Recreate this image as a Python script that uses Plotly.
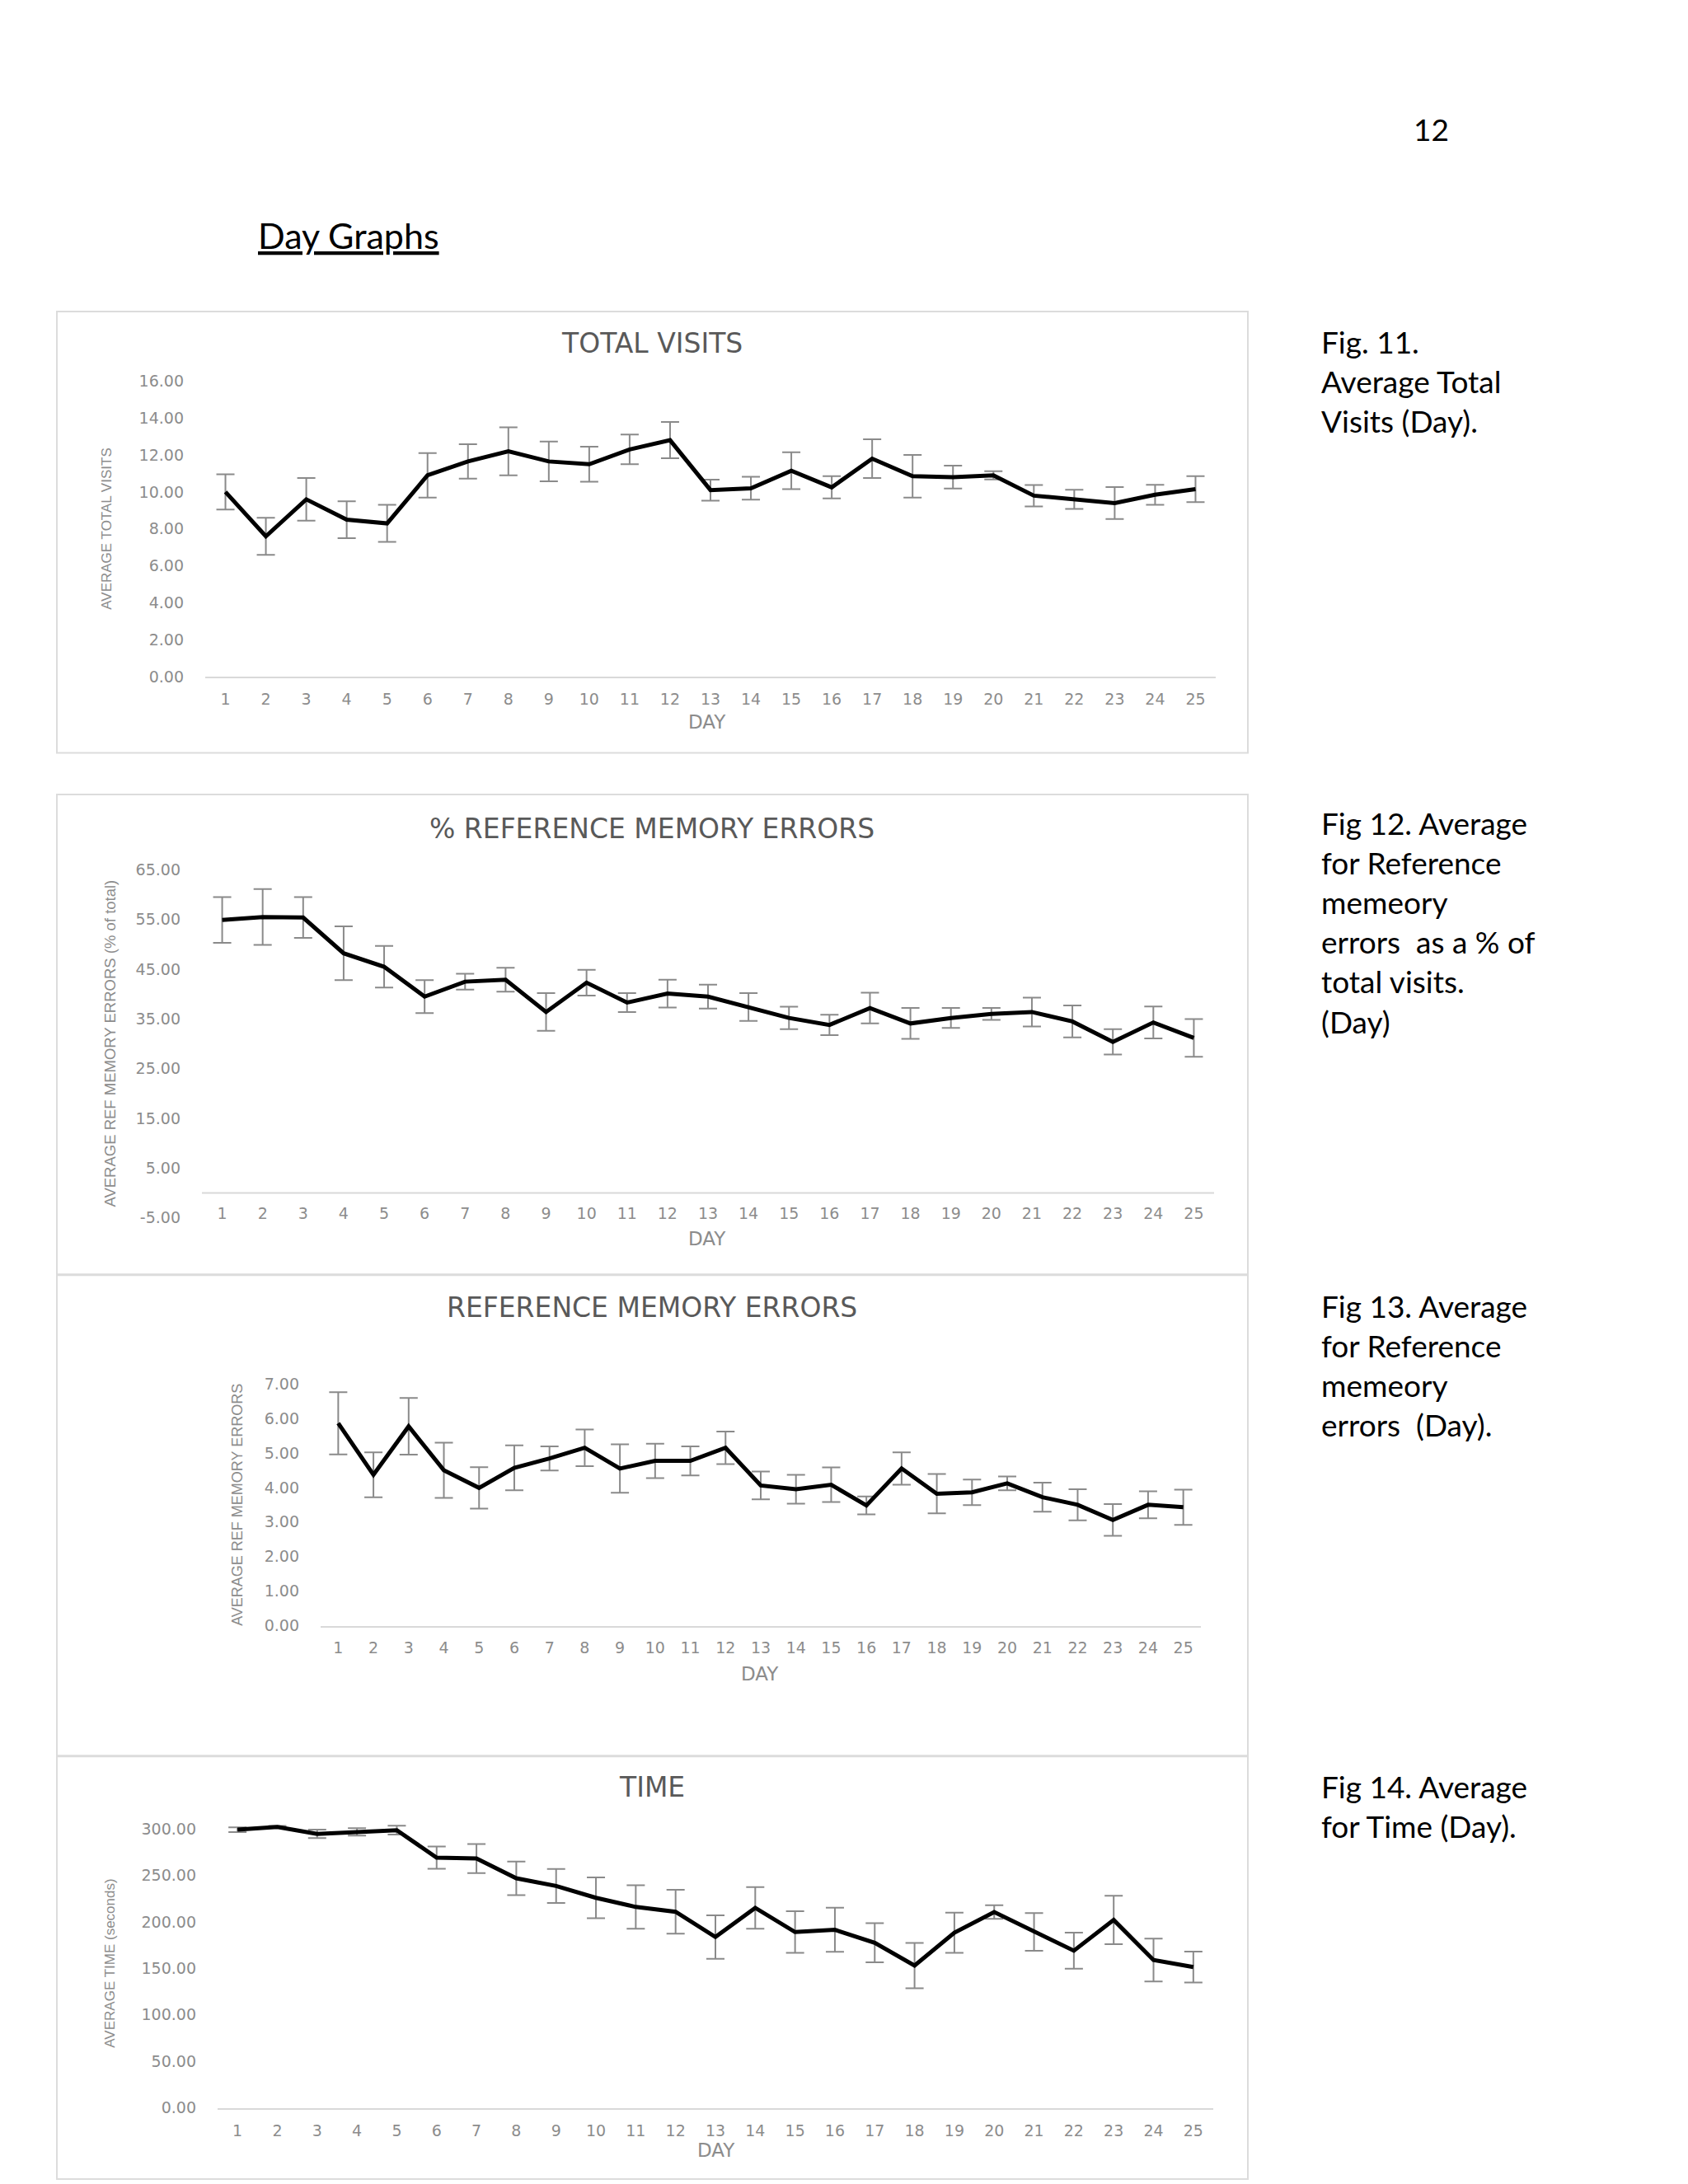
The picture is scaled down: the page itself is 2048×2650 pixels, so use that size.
import plotly.graph_objs as go

W = 2048
H = 2650

days = list(range(1, 26))

# fig 11 - total visits
visits = [10.0, 7.6, 9.6, 8.5, 8.3, 10.9, 11.65, 12.2, 11.65, 11.5, 12.3, 12.8, 10.1,
          10.2, 11.15, 10.25, 11.8, 10.85, 10.8, 10.9, 9.8, 9.6, 9.4, 9.85, 10.15]
visits_err = [0.95, 1.0, 1.15, 1.0, 1.0, 1.2, 0.93, 1.3, 1.08, 0.95, 0.8, 0.98, 0.57,
              0.62, 1.0, 0.6, 1.05, 1.15, 0.62, 0.22, 0.58, 0.52, 0.86, 0.54, 0.7]

# fig 12 - % reference memory errors
pct_errors = [54.9, 55.5, 55.4, 48.2, 45.5, 39.5, 42.5, 42.9, 36.4, 42.3, 38.3, 40.1, 39.5,
              37.4, 35.2, 33.8, 37.2, 34.1, 35.2, 36.0, 36.4, 34.5, 30.4, 34.3, 31.2]
pct_errors_err = [4.6, 5.6, 4.1, 5.4, 4.2, 3.3, 1.6, 2.4, 3.8, 2.6, 1.9, 2.8, 2.4,
                  2.8, 2.25, 2.05, 3.1, 3.1, 2.0, 1.2, 2.9, 3.2, 2.55, 3.2, 3.8]

# fig 13 - reference memory errors
ref_errors = [5.86, 4.37, 5.77, 4.5, 3.99, 4.57, 4.84, 5.15, 4.55, 4.77, 4.77, 5.15, 4.06,
              3.95, 4.08, 3.48, 4.55, 3.82, 3.86, 4.12, 3.72, 3.5, 3.06, 3.5, 3.43]
ref_errors_err = [0.9, 0.65, 0.82, 0.8, 0.6, 0.65, 0.35, 0.53, 0.7, 0.5, 0.42, 0.47, 0.4,
                  0.42, 0.5, 0.26, 0.47, 0.57, 0.37, 0.2, 0.42, 0.45, 0.46, 0.39, 0.51]

# fig 14 - time (seconds)
times = [299, 302, 294.5, 296.6, 298.5, 269, 268, 246.8, 238.5, 225.8, 216, 210.8, 183.7,
         215, 189, 191.4, 177.5, 153, 188.3, 210.5, 189.2, 169, 202, 159, 151.4]
times_err = [2.5, 1, 4.5, 4, 4.7, 12, 15.7, 18, 18.2, 22, 23.4, 23.6, 23.4,
             22.3, 22.4, 23.7, 21, 24.3, 21.5, 7.3, 20.3, 19.4, 26, 23, 16.6]

chart_titles = ['TOTAL VISITS', '% REFERENCE MEMORY ERRORS', 'REFERENCE MEMORY ERRORS', 'TIME']
y_titles = ['AVERAGE TOTAL VISITS', 'AVERAGE REF MEMORY ERRORS (% of total)',
            'AVERAGE REF MEMORY ERRORS', 'AVERAGE TIME (seconds)']
y_ticks = [[0, 2, 4, 6, 8, 10, 12, 14, 16],
           [-5, 5, 15, 25, 35, 45, 55, 65],
           [0, 1, 2, 3, 4, 5, 6, 7],
           [0, 50, 100, 150, 200, 250, 300]]
captions = ['Fig. 11.<br>Average Total<br>Visits (Day).',
            'Fig 12. Average<br>for Reference<br>memeory<br>errors\u00a0 as a % of<br>total visits.<br>(Day)',
            'Fig 13. Average<br>for Reference<br>memeory<br>errors\u00a0 (Day).',
            'Fig 14. Average<br>for Time (Day).']

CHART_FONT = 'DejaVu Sans'
TEXT_FONT = 'Lato'
GREY = '#8c8c8c'


def px_x(p):
    return p / W


def px_y(p):
    return 1 - p / H


def main():
    series = [(visits, visits_err), (pct_errors, pct_errors_err),
              (ref_errors, ref_errors_err), (times, times_err)]
    # plot areas in page pixels: x0, x1, ytop, ybottom, y range
    areas = [(241, 1467, 447, 809, [0, 16]),
             (237, 1465, 1045, 1471, [-5, 65]),
             (381, 1449, 1674, 1970, [0, 7]),
             (256, 1464, 2207, 2560, [0, 310])]
    boxes = [(61, 362, 1506, 902), (61, 953, 1506, 1540),
             (61, 1541, 1506, 2129), (61, 2130, 1506, 2647)]
    title_y = [401, 995, 1581, 2167]
    ytitle_x = [122, 126, 280, 126]
    ytitle_size = [17, 18.5, 18, 17]
    day_pos = [(850, 864), (850, 1496), (914, 2029), (861, 2612)]
    caption_top = [374, 963, 1554, 2142]

    fig = go.Figure()
    annotations = []
    shapes = []
    layout = dict(width=W, height=H, margin=dict(l=0, r=0, t=0, b=0),
                  paper_bgcolor='white', plot_bgcolor='white', showlegend=False)

    for i, (vals, errs) in enumerate(series):
        n = '' if i == 0 else str(i + 1)
        x0, x1, yt, yb, yr = areas[i]
        fig.add_trace(go.Scatter(
            x=days, y=vals, xaxis='x' + n, yaxis='y' + n, mode='lines',
            line=dict(color='black', width=5),
            error_y=dict(type='data', array=errs, visible=True,
                         color='#8a8a8a', thickness=2, width=11)))
        xaxis = dict(
            domain=[px_x(x0), px_x(x1)], anchor='y' + n, range=[0.5, 25.5],
            tickvals=days, ticktext=[str(d) for d in days],
            showgrid=False, zeroline=False, ticks='',
            showline=True, linecolor='#d9d9d9', linewidth=2,
            tickfont=dict(family=CHART_FONT, size=19, color=GREY),
            ticklabelstandoff=9)
        if i == 1:
            # labels sit at the bottom, axis line is drawn at zero below
            xaxis.update(anchor='free', position=px_y(1452), showline=False,
                         ticklabelstandoff=0)
        layout['xaxis' + n] = xaxis
        layout['yaxis' + n] = dict(
            domain=[px_y(yb), px_y(yt)], anchor='x' + n, range=yr,
            tickvals=y_ticks[i], ticktext=['%.2f' % v for v in y_ticks[i]],
            showgrid=False, zeroline=False, showline=False, ticks='',
            tickfont=dict(family=CHART_FONT, size=19, color=GREY),
            ticklabelstandoff=25)
        if i == 1:
            shapes.append(dict(type='line', xref='x2 domain', yref='y2',
                               x0=0, x1=1, y0=0, y1=0,
                               line=dict(color='#d9d9d9', width=2)))

        bx0, by0, bx1, by1 = boxes[i]
        shapes.append(dict(type='rect', xref='paper', yref='paper',
                           x0=px_x(bx0), x1=px_x(bx1), y0=px_y(by1), y1=px_y(by0),
                           line=dict(color='#dcdcdc', width=2)))

        annotations.append(dict(text=chart_titles[i], xref='paper', yref='paper',
                                x=px_x(783), y=px_y(title_y[i]), showarrow=False,
                                xanchor='center', yanchor='middle',
                                font=dict(family=CHART_FONT, size=33, color='#595959')))
        annotations.append(dict(text=y_titles[i], xref='paper', yref='paper',
                                x=px_x(ytitle_x[i]), y=px_y((yt + yb) / 2), textangle=-90,
                                showarrow=False, xanchor='center', yanchor='middle',
                                font=dict(family='Liberation Sans', size=ytitle_size[i],
                                          color=GREY)))
        annotations.append(dict(text='DAY', xref='paper', yref='paper',
                                x=px_x(day_pos[i][0]), y=px_y(day_pos[i][1]),
                                showarrow=False, xanchor='center', yanchor='middle',
                                font=dict(family=CHART_FONT, size=23, color=GREY)))
        annotations.append(dict(text=captions[i], xref='paper', yref='paper',
                                x=px_x(1593), y=px_y(caption_top[i]), align='left',
                                showarrow=False, xanchor='left', yanchor='top',
                                font=dict(family=TEXT_FONT, size=37, color='black')))

    annotations.append(dict(text='12', xref='paper', yref='paper',
                            x=px_x(1728), y=px_y(139), showarrow=False,
                            xanchor='center', yanchor='middle',
                            font=dict(family=TEXT_FONT, size=37, color='black')))
    annotations.append(dict(text='<u>Day Graphs</u>', xref='paper', yref='paper',
                            x=px_x(303), y=px_y(269), showarrow=False,
                            xanchor='left', yanchor='middle',
                            font=dict(family=TEXT_FONT, size=43, color='black')))

    layout['annotations'] = annotations
    layout['shapes'] = shapes
    fig.update_layout(**layout)
    fig.write_html('out.html')


if __name__ == '__main__':
    main()
